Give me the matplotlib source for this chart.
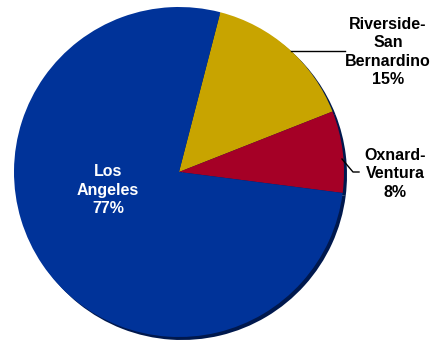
import matplotlib.pyplot as plt

regions = ["Riverside-\nSan\nBernardino", "Oxnard-\nVentura", "Los\nAngeles"]
shares = [15, 8, 77]
colors = ["#C8A400", "#A50026", "#003399"]

plt.rcParams['font.family'] = ['Liberation Sans', 'DejaVu Sans']

fig = plt.figure(figsize=(4.36, 3.44), dpi=100)
ax = fig.add_axes([0, 0, 1, 1])

cx, cy, r = 179, 172, 165
start = 75.5

# drop shadow behind the pie
ax.pie(shares, colors=["#00184d"] * 3, startangle=start, counterclock=False,
       center=(cx + 3, cy - 3), radius=r, frame=True,
       wedgeprops=dict(linewidth=0))

wedges, _ = ax.pie(shares, colors=colors, startangle=start, counterclock=False,
                   center=(cx, cy), radius=r, frame=True,
                   wedgeprops=dict(linewidth=0))
ax.set_xlim(0, 436)
ax.set_ylim(0, 344)
ax.set_aspect("equal")
ax.axis("off")

font = dict(fontsize=11.5, fontweight="bold", ha="center", va="center",
            linespacing=1.3)

ax.text(108, 344 - 190, f"{regions[2]}\n{shares[2]}%", color="white", **font)
ax.text(388, 344 - 52, f"{regions[0]}\n{shares[0]}%", color="black", **font)
ax.text(395, 344 - 174, f"{regions[1]}\n{shares[1]}%", color="black", **font)

# leader lines
ax.plot([291, 345], [344 - 51, 344 - 51], color="black", lw=1)
ax.plot([342, 353, 359], [344 - 159, 344 - 172, 344 - 172], color="black", lw=1)

fig.savefig("out.png", dpi=100)
